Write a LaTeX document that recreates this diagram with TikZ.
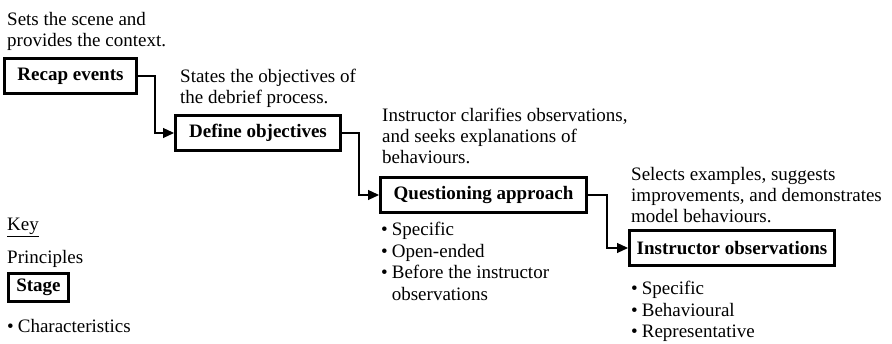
\documentclass[tikz,border=0pt]{standalone}
\usepackage{fontspec}
\setmainfont{Liberation Serif}
\usetikzlibrary{arrows.meta}
\begin{document}
\begin{tikzpicture}[x=1pt,y=-1pt,
  stagebox/.style={draw, line width=2.6pt, inner sep=0pt,
    font=\fontsize{19}{21}\selectfont\bfseries, minimum height=35.4pt},
  note/.style={anchor=base west, inner sep=0pt, font=\fontsize{19}{21}\selectfont},
  points/.style={anchor=base west, inner sep=0pt, font=\fontsize{19}{21.5}\selectfont},
  flow/.style={line width=1.2pt, -{Triangle[length=11pt,width=10pt]}}]
\useasboundingbox (0,0) rectangle (892,344);

% stages
\node[stagebox, minimum width=132.4pt] (recap)   at (70.5,76)  {Recap events};
\node[stagebox, minimum width=165.4pt] (define)  at (258,133)  {Define objectives};
\node[stagebox, minimum width=206.4pt] (quest)   at (483.5,195) {Questioning approach};
\node[stagebox, minimum width=205.4pt] (observe) at (732,248)  {Instructor observations};

% connectors between stages
\draw[flow] (recap.east) -- ++(17,0) |- (define.west);
\draw[flow] (define.east) -- ++(17,0) |- (quest.west);
\draw[flow] (quest.east) -- ++(19,0) |- (observe.west);

% principles above each stage
\node[note] (pA) at (7,26) {\begin{tabular}[t]{@{}l@{}}Sets the scene and\\provides the context.\end{tabular}};
\node[note] (pB) at (180,83) {\begin{tabular}[t]{@{}l@{}}States the objectives of\\the debrief process.\end{tabular}};
\node[note] (pC) at (382,122) {\begin{tabular}[t]{@{}l@{}}Instructor clarifies observations,\\and seeks explanations of\\behaviours.\end{tabular}};
\node[note] (pD) at (631,181) {\begin{tabular}[t]{@{}l@{}}Selects examples, suggests\\improvements, and demonstrates\\model behaviours.\end{tabular}};

% characteristics below stages
\node[points] (cQ) at (381,236) {\begin{tabular}[t]{@{}l@{\hspace{4pt}}l@{}}
  \textbullet & Specific\\
  \textbullet & Open-ended\\
  \textbullet & Before the instructor\\
              & observations\end{tabular}};
\node[points] (cO) at (631,295) {\begin{tabular}[t]{@{}l@{\hspace{4pt}}l@{}}
  \textbullet & Specific\\
  \textbullet & Behavioural\\
  \textbullet & Representative\end{tabular}};

% key
\node[note] (key) at (7,231) {\underline{Key}};
\node[note] (kP) at (7,264) {Principles};
\node[stagebox, minimum width=60.4pt, minimum height=28.4pt] (stage) at (38.5,287.5) {Stage};
\node[points] (kC) at (7,333) {\textbullet\hspace{4pt}Characteristics};
\end{tikzpicture}
\end{document}
